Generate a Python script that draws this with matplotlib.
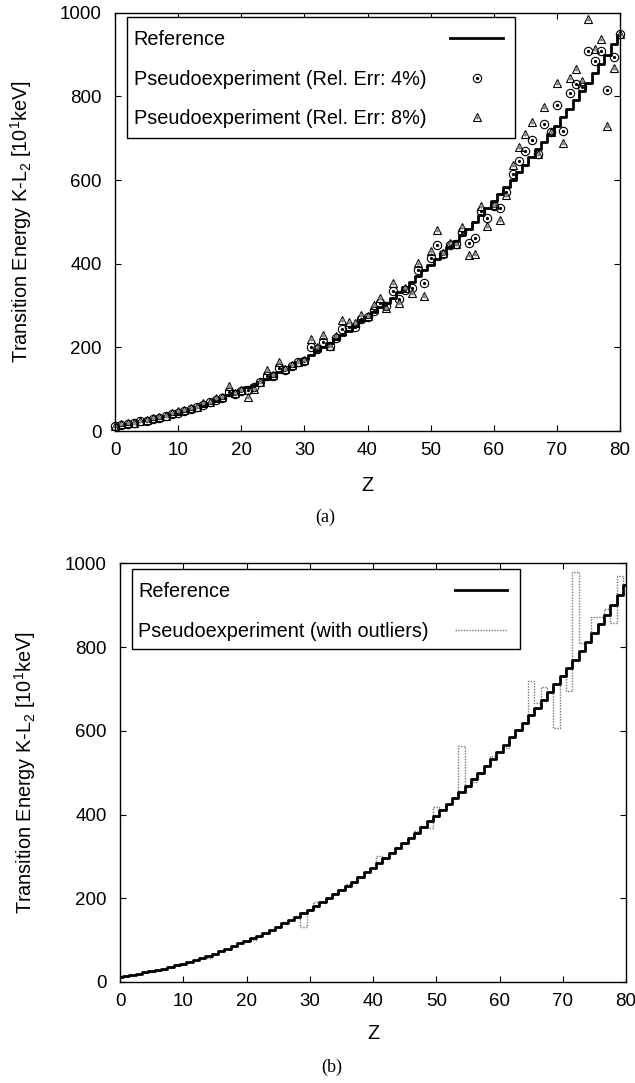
import matplotlib
matplotlib.use('Agg')
import matplotlib.pyplot as plt
from matplotlib.lines import Line2D
from matplotlib.patches import Rectangle

plt.rcParams['font.family'] = ['Liberation Sans', 'DejaVu Sans']
plt.rcParams['mathtext.fontset'] = 'custom'
plt.rcParams['mathtext.rm'] = 'Liberation Sans'
plt.rcParams['mathtext.it'] = 'Liberation Sans:italic'

# Z values and the transition energies
z = list(range(81))

ref_energy = [13, 15, 17, 20, 23, 26, 29, 32, 36, 40,
              44, 48, 53, 58, 63, 68, 74, 80, 86, 92,
              98, 104, 111, 118, 125, 132, 140, 148, 156, 164,
              173, 182, 191, 200, 210, 220, 230, 240, 251, 262,
              273, 284, 296, 307, 319, 332, 344, 357, 370, 384,
              397, 411, 425, 440, 454, 469, 484, 500, 516, 532,
              550, 567, 584, 601, 619, 637, 655, 673, 692, 711,
              730, 750, 770, 791, 812, 833, 855, 877, 900, 924,
              947]

# pseudoexperiment, relative error 4% (circles)
err4 = [13, 15, 17, 20, 23, 25, 29, 31, 35, 40,
        44, 49, 52, 57, 62, 69, 74, 79, 94, 88,
        95, 97, 104, 118, 131, 132, 150, 145, 156, 164,
        167, 201, 197, 213, 203, 222, 244, 248, 248, 268,
        272, 288, 305, 298, 335, 316, 337, 343, 384, 353,
        413, 444, 422, 444, 448, 476, 450, 461, 526, 510,
        539, 533, 571, 615, 646, 670, 695, 662, 733, 714,
        779, 718, 808, 829, 823, 909, 884, 909, 815, 895,
        950]

# pseudoexperiment, relative error 8% (triangles)
err8 = [13, 16, 18, 20, 24, 27, 30, 33, 37, 43,
        49, 51, 55, 58, 66, 70, 78, 82, 107, 92,
        98, 81, 100, 118, 146, 135, 164, 148, 158, 166,
        170, 221, 201, 230, 203, 228, 265, 261, 257, 277,
        276, 302, 318, 295, 355, 306, 343, 331, 401, 323,
        430, 481, 425, 450, 446, 487, 421, 424, 538, 490,
        541, 505, 565, 635, 678, 709, 738, 662, 775, 714,
        833, 689, 845, 866, 837, 985, 913, 936, 730, 868,
        948]

# pseudoexperiment with outliers (panel b)
outliers = [13, 15, 17, 20, 23, 24, 29, 32, 36, 40,
            44, 48, 53, 58, 57, 68, 74, 80, 86, 92,
            98, 100, 111, 118, 125, 132, 143, 148, 156, 132,
            173, 190, 191, 200, 210, 220, 234, 240, 251, 262,
            273, 302, 296, 307, 322, 332, 344, 360, 372, 368,
            418, 411, 425, 440, 563, 466, 478, 496, 516, 540,
            550, 558, 584, 601, 619, 718, 666, 705, 692, 606,
            730, 694, 980, 809, 812, 871, 871, 892, 858, 970,
            947]

W, H = 635, 1083
FS = 13.5      # tick labels
FS_TXT = 14.3  # axis titles and legend
ylab = 'Transition Energy K-L$_2$ [10$^1$keV]'

fig = plt.figure(figsize=(W / 100, H / 100), dpi=100)
ax1 = fig.add_axes([115 / W, 1 - 431 / H, 505 / W, 418.3 / H])
ax2 = fig.add_axes([120 / W, 1 - 982 / H, 506 / W, 418.7 / H])


def px(x, y):
    # pixel position (from top-left) -> figure fraction
    return x / W, 1 - y / H


def style(ax, xlab_y, ylab_x):
    ax.set_xlim(0, 80)
    ax.set_ylim(0, 1000)
    ax.set_xticks(range(0, 81, 10))
    ax.set_yticks(range(0, 1001, 200))
    ax.tick_params(direction='in', length=4.5, width=0.8, top=True, right=True,
                   labelsize=FS)
    ax.tick_params(axis='x', pad=8)
    ax.tick_params(axis='y', pad=9.5)
    for s in ax.spines.values():
        s.set_linewidth(1.0)
    ax.set_xlabel('Z', fontsize=FS_TXT)
    ax.set_ylabel(ylab, fontsize=FS_TXT)
    ax.xaxis.set_label_coords(0.5, xlab_y)
    ax.yaxis.set_label_coords(ylab_x, 0.5)


def legend_box(x0, y0, x1, y1):
    fx, fy = px(x0, y1)
    fig.add_artist(Rectangle((fx, fy), (x1 - x0) / W, (y1 - y0) / H,
                             transform=fig.transFigure, facecolor='white',
                             edgecolor='black', lw=1.0, zorder=5))


def legend_text(x, yc, s):
    fx, fy = px(x, yc + 7.1)
    fig.text(fx, fy, s, fontsize=FS_TXT, ha='left', va='baseline', zorder=6)


def legend_line(xa, xb, yc, **kw):
    (fa, fy), (fb, _) = px(xa, yc), px(xb, yc)
    fig.add_artist(Line2D([fa, fb], [fy, fy], transform=fig.transFigure,
                          zorder=6, **kw))


def legend_marker(x, yc, **kw):
    fx, fy = px(x, yc)
    fig.add_artist(Line2D([fx], [fy], transform=fig.transFigure, ls='none',
                          zorder=6, **kw))


circ_kw = dict(marker='o', ms=6, mfc='none', mec='black', mew=0.8)
circ_dot = dict(marker='o', ms=1.3, color='black')
tri_kw = dict(marker='^', ms=6, mfc='none', mec='black', mew=0.8)
tri_dot = dict(marker='o', ms=1.8, color='#888888')

# panel (a)
ax1.step(z, ref_energy, where='mid', color='black', lw=2)
ax1.plot(z, err4, ls='none', clip_on=False, **circ_kw)
ax1.plot(z, err4, ls='none', clip_on=False, **circ_dot)
ax1.plot(z, err8, ls='none', clip_on=False, **tri_kw)
ax1.plot(z, err8, ls='none', clip_on=False, **tri_dot)
style(ax1, -0.1077, -0.160)

legend_box(127, 17, 515, 138)
legend_text(133.5, 38, 'Reference')
legend_line(450, 503, 38, color='black', lw=2)
legend_text(133.5, 78, 'Pseudoexperiment (Rel. Err: 4%)')
legend_marker(477, 78, **circ_kw)
legend_marker(477, 78, **circ_dot)
legend_text(133.5, 117, 'Pseudoexperiment (Rel. Err: 8%)')
legend_marker(477, 117, **tri_kw)
legend_marker(477, 117, **tri_dot)

fig.text(*px(325, 517), '(a)', family='Liberation Serif', fontsize=13,
         ha='center', va='center')

# panel (b)
ax2.step(z, outliers, where='mid', color='#777777', lw=1.0, ls=(0, (1, 1)))
ax2.step(z, ref_energy, where='mid', color='black', lw=2)
style(ax2, -0.100, -0.163)

legend_box(132, 569, 520, 649)
legend_text(138, 589.5, 'Reference')
legend_line(455, 507, 589.5, color='black', lw=2)
legend_text(138, 630, 'Pseudoexperiment (with outliers)')
legend_line(455, 507, 630, color='#777777', lw=1.0, ls=(0, (1, 1)))

fig.text(*px(332, 1067), '(b)', family='Liberation Serif', fontsize=13,
         ha='center', va='center')

fig.savefig('out.png', dpi=100)
